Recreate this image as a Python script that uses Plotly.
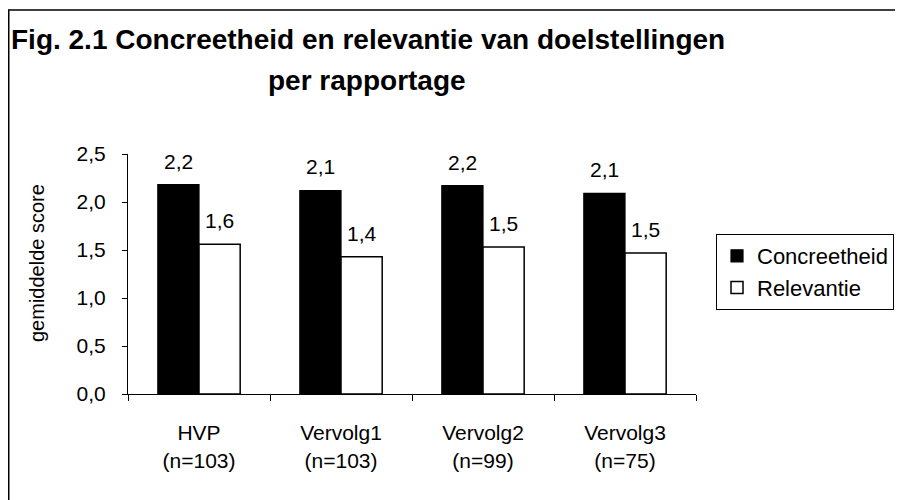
import plotly.graph_objects as go

categories = ["HVP<br>(n=103)", "Vervolg1<br>(n=103)", "Vervolg2<br>(n=99)", "Vervolg3<br>(n=75)"]
concreetheid = [2.18, 2.12, 2.17, 2.09]
relevantie = [1.56, 1.43, 1.53, 1.47]
y_ticks = [0, 0.5, 1.0, 1.5, 2.0, 2.5]

FONT = "Liberation Sans, Arial, Helvetica, sans-serif"
# the page body adds an 8px margin, so the figure is drawn 8px smaller
OFF = 8
W, H = 903 - OFF, 500 - OFF
M_L, M_T = 128 - OFF, 154 - OFF
plot_w, plot_h = 568, 240
M_R, M_B = W - M_L - plot_w, H - M_T - plot_h
BARGAP = 0.42

cat_px = plot_w / len(categories)
bar_half_px = cat_px * (1 - BARGAP) / 4


def px_x(px):
    # reference-window pixel -> paper x
    return (px - OFF - M_L) / plot_w


def px_y(py):
    return (H - M_B - (py - OFF)) / plot_h


fig = go.Figure()
fig.add_trace(go.Bar(
    x=categories, y=concreetheid, name="Concreetheid",
    marker=dict(color="black", line=dict(color="black", width=1.2)),
))
fig.add_trace(go.Bar(
    x=categories, y=relevantie, name="Relevantie",
    marker=dict(color="white", line=dict(color="black", width=1.5)),
))

# value labels above the bars, comma decimals
annotations = []
for vals, shift in ((concreetheid, -bar_half_px), (relevantie, bar_half_px)):
    for cat, v in zip(categories, vals):
        annotations.append(dict(
            x=cat, y=v, xref="x", yref="y", text=f"{v:.1f}".replace(".", ","),
            showarrow=False, xshift=shift, yshift=10, yanchor="bottom",
            font=dict(family=FONT, size=21, color="black"),
        ))

annotations.append(dict(
    x=px_x(9), y=px_y(40), xref="paper", yref="paper", xanchor="left", yanchor="middle",
    text="<b>Fig. 2.1 Concreetheid en relevantie van doelstellingen</b>", showarrow=False,
    font=dict(family=FONT, size=28, color="black"),
))
annotations.append(dict(
    x=px_x(367), y=px_y(80), xref="paper", yref="paper", xanchor="center", yanchor="middle",
    text="<b>per rapportage</b>", showarrow=False,
    font=dict(family=FONT, size=28, color="black"),
))
# y axis title as annotation so it sits where the reference has it
annotations.append(dict(
    x=px_x(37), y=px_y(263), xref="paper", yref="paper", xanchor="center", yanchor="middle",
    text="gemiddelde score", textangle=-90, showarrow=False,
    font=dict(family=FONT, size=20, color="black"),
))

fig.update_layout(
    width=W, height=H,
    margin=dict(l=M_L, r=M_R, t=M_T, b=M_B, autoexpand=False),
    paper_bgcolor="white", plot_bgcolor="white",
    barmode="group", bargap=BARGAP, bargroupgap=0,
    separators=", ",
    font=dict(family=FONT, color="black"),
    showlegend=True,
    legend=dict(
        x=px_x(716), y=px_y(234), xanchor="left", yanchor="top",
        bordercolor="black", borderwidth=1, bgcolor="white",
        font=dict(family=FONT, size=22, color="black"),
        tracegroupgap=0, itemwidth=30,
    ),
    annotations=annotations,
    shapes=[dict(
        type="rect", xref="paper", yref="paper",
        x0=px_x(OFF + 0.75), x1=px_x(920), y0=px_y(520), y1=px_y(10),
        line=dict(color="black", width=1.5), fillcolor="rgba(0,0,0,0)", layer="below",
    )],
)

fig.update_xaxes(
    showline=True, linecolor="black", linewidth=1.2,
    ticks="outside", tickson="boundaries", ticklen=6, tickcolor="black",
    ticklabelstandoff=20,
    tickfont=dict(family=FONT, size=21, color="black"),
    showgrid=False, zeroline=False,
)
fig.update_yaxes(
    range=[0, 2.5], tickvals=y_ticks, tickformat=".1f",
    showline=True, linecolor="black", linewidth=1.2,
    ticks="outside", ticklen=5, tickcolor="black",
    ticklabelstandoff=12,
    tickfont=dict(family=FONT, size=21, color="black"),
    showgrid=False, zeroline=False,
)

fig.write_html("out.html")
